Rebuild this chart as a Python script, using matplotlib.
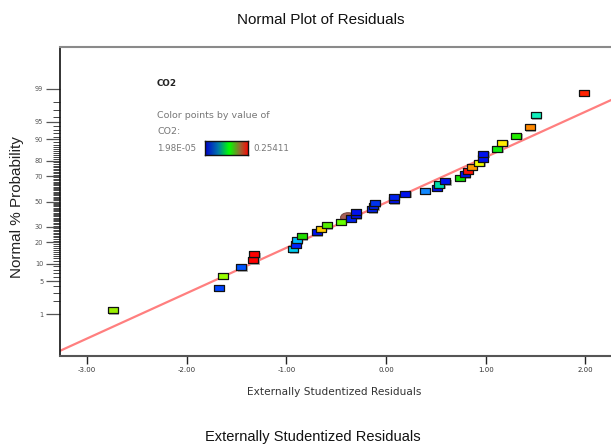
import numpy as np
import matplotlib
matplotlib.use("Agg")
import matplotlib.pyplot as plt
import matplotlib.transforms as mtransforms
from matplotlib.colors import LinearSegmentedColormap
from matplotlib.patches import Ellipse
from statistics import NormalDist

# residuals (sorted) and their normal % probability
residuals = [-2.744, -1.680, -1.640, -1.453, -1.332, -1.322, -0.934, -0.907, -0.893, -0.843,
             -0.696, -0.656, -0.595, -0.452, -0.351, -0.304, -0.301, -0.141, -0.126, -0.110,
             0.077, 0.080, 0.194, 0.389, 0.512, 0.535, 0.595, 0.740, 0.793, 0.820,
             0.863, 0.937, 0.974, 0.977, 1.117, 1.168, 1.308, 1.443, 1.503, 1.988]
prob_pct = [1.25, 3.75, 6.25, 8.75, 11.25, 13.75, 16.25, 18.75, 21.25, 23.75,
            26.25, 28.75, 31.25, 33.75, 36.25, 38.75, 41.25, 43.75, 46.25, 48.75,
            51.25, 53.75, 56.25, 58.75, 61.25, 63.75, 66.25, 68.75, 71.25, 73.75,
            76.25, 78.75, 81.25, 83.75, 86.25, 88.75, 91.25, 93.75, 96.25, 98.75]
point_colors = ['#99ee00', '#0044ff', '#99ff00', '#0055ff', '#ff0000', '#ff0000', '#00ccee', '#0022ff',
                '#00bbff', '#22dd00', '#0011ee', '#ffcc00', '#55ee00', '#66ff00', '#0022ee', '#0011ee',
                '#0011ee', '#0022ee', '#0022ee', '#0033ee', '#0011ee', '#0022ee', '#0011ee', '#1188ff',
                '#0011ee', '#00ddaa', '#0011ee', '#11dd00', '#0011ee', '#ff1100', '#ff9900', '#eeff00',
                '#0011ee', '#0011ee', '#11ee11', '#ffee00', '#22ee00', '#ff8800', '#11eebb', '#ff2200']
highlight_idx = 14

line_x = [-3.30, 2.40]
line_pct = [0.094, 98.7]

major_pct = [1, 5, 10, 20, 30, 50, 70, 80, 90, 95, 99]
minor_pct = [p for p in range(2, 99) if p not in major_pct]
x_ticks = [-3, -2, -1, 0, 1, 2]
x_labels = ['-3.00', '-2.00', '-1.00', '0.00', '1.00', '2.00']

cbar_min, cbar_max = '1.98E-05', '0.25411'

nd = NormalDist()
z = [nd.inv_cdf(p / 100) for p in prob_pct]
line_z = [nd.inv_cdf(p / 100) for p in line_pct]

outer_font = ['Liberation Sans', 'DejaVu Sans']

fig = plt.figure(figsize=(6.11, 4.46), dpi=100)
ax = fig.add_axes([60 / 611, 90 / 446, 556 / 611, 309 / 446])
ax.set_xlim(-3.273, 2.309)
ax.set_ylim(-3.19, 3.19)

ax.plot(line_x, line_z, color='#ff7f7f', lw=1.6, zorder=2)

# highlighted point ring
ax.add_patch(Ellipse((residuals[highlight_idx] - 0.03, z[highlight_idx] + 0.02), 0.15, 0.2,
                     facecolor='#a86058', edgecolor='#7a4a46', lw=0.8, zorder=3))

box = [(-1, -0.62), (1, -0.62), (1, 0.62), (-1, 0.62), (-1, -0.62)]
shadow = mtransforms.offset_copy(ax.transData, fig=fig, x=1.5, y=-1.5, units='dots')
ax.scatter(residuals, z, marker=box, s=50, c='#b0b0b0', edgecolors='none',
           transform=shadow, zorder=3)
ax.scatter(residuals, z, marker=box, s=50, c=point_colors, edgecolors='#111111',
           linewidths=0.9, zorder=4)

ax.set_yticks([nd.inv_cdf(p / 100) for p in major_pct])
ax.set_yticklabels([str(p) for p in major_pct])
ax.set_yticks([nd.inv_cdf(p / 100) for p in minor_pct], minor=True)
ax.set_xticks(x_ticks)
ax.set_xticklabels(x_labels)
ax.tick_params(axis='y', which='major', length=10, width=0.9, color='#555555',
               labelsize=4.8, labelcolor='#555555', pad=2)
ax.tick_params(axis='y', which='minor', length=5, width=0.7, color='#444444')
ax.tick_params(axis='x', which='major', length=6, width=1.0, color='#222222',
               labelsize=5, labelcolor='#333333', pad=2)

ax.spines['left'].set_color('#111111')
ax.spines['left'].set_linewidth(1.2)
ax.spines['top'].set_color('#8a8a8a')
ax.spines['top'].set_linewidth(1.5)
ax.spines['bottom'].set_color('#555555')
ax.spines['bottom'].set_linewidth(1.5)
ax.spines['right'].set_visible(False)

# legend block inside plot
fig.text(157 / 611, 1 - 84 / 446, 'CO2', fontsize=6.3, fontweight='bold', color='#222222',
         va='center', ha='left')
fig.text(157 / 611, 1 - 116 / 446, 'Color points by value of', fontsize=6.8, color='#777777',
         va='center', ha='left')
fig.text(157 / 611, 1 - 131 / 446, 'CO2:', fontsize=6.8, color='#777777', va='center', ha='left')
fig.text(157 / 611, 1 - 148 / 446, cbar_min, fontsize=6.3, color='#777777', va='center', ha='left')
fig.text(253 / 611, 1 - 148 / 446, cbar_max, fontsize=6.3, color='#777777', va='center', ha='left')
cax = fig.add_axes([205 / 611, 1 - 155 / 446, 43 / 611, 14 / 446])
cmap = LinearSegmentedColormap.from_list(
    'co2', [(0, '#0000cc'), (0.3, '#0077aa'), (0.55, '#00ff00'), (0.8, '#996633'), (1, '#ff0000')])
cax.imshow(np.linspace(0, 1, 200)[None, :], aspect='auto', cmap=cmap)
cax.set_xticks([])
cax.set_yticks([])
for s in cax.spines.values():
    s.set_color('#111111')
    s.set_linewidth(1.0)

fig.text(334 / 611, 1 - 392 / 446, 'Externally Studentized Residuals', fontsize=7.6,
         color='#333333', ha='center', va='center')

# outer labels
fig.text(321 / 611, 1 - 20 / 446, 'Normal Plot of Residuals', family=outer_font, fontsize=11,
         ha='center', va='center', color='#111111')
fig.text(17 / 611, 1 - 207 / 446, 'Normal % Probability', fontsize=11, rotation=90,
         ha='center', va='center', color='#222222', family=outer_font)
fig.text(313 / 611, 1 - 437 / 446, 'Externally Studentized Residuals', family=outer_font,
         fontsize=10.5, ha='center', va='center', color='#111111')

fig.savefig('out.png', dpi=100)
